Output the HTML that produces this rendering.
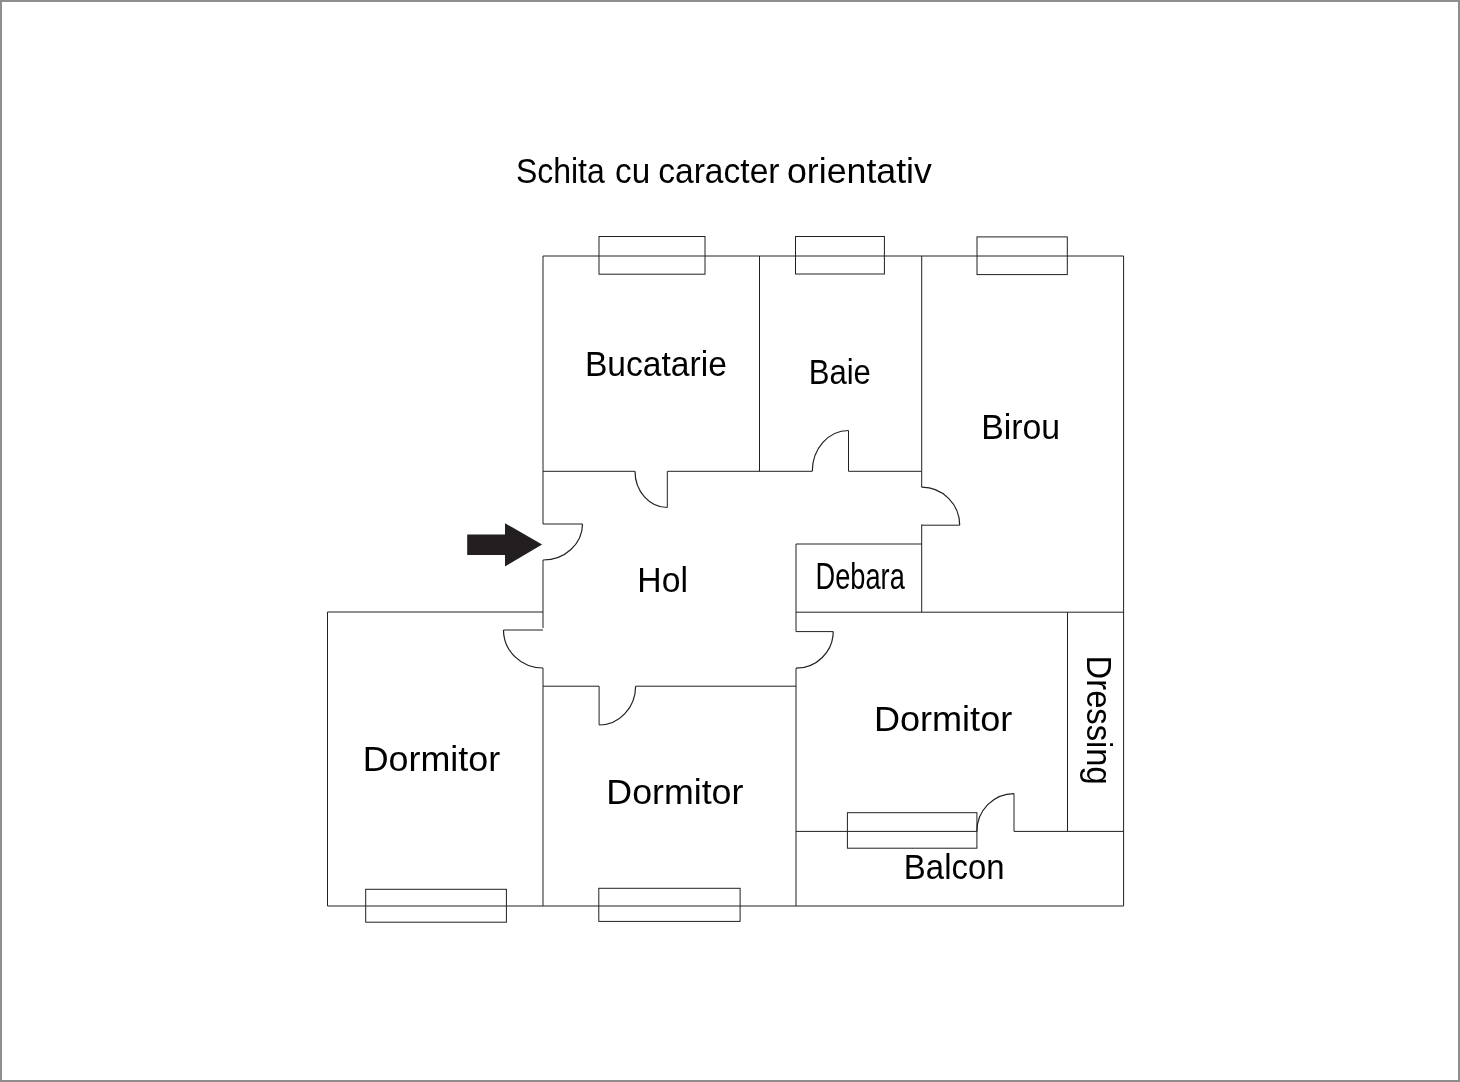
<!DOCTYPE html>
<html><head><meta charset="utf-8">
<style>
html,body{margin:0;padding:0;background:#fff;}
body{width:1460px;height:1082px;overflow:hidden;position:relative;}
.frame{position:absolute;left:0;top:0;width:1456px;height:1078px;border:2px solid #8e8e8e;}
svg{position:absolute;left:0;top:0;will-change:transform;}
text{font-family:"Liberation Sans",sans-serif;fill:#000;}
</style></head>
<body>
<div class="frame"></div>
<svg width="1460" height="1082" viewBox="0 0 1460 1082">
<g fill="none" stroke="#231f20" stroke-width="1">
<!-- outer walls -->
<path d="M543,256 H1123.6 V906 H327.5 V612 H543"/>
<!-- main left wall x=543 -->
<path d="M543,256 V524 M543,560 V628 M543,668 V906"/>
<!-- door leaves -->
<path d="M543,524 H582.5"/>
<path d="M543,630 H503.5"/>
<path d="M667.3,471.3 V507.5"/>
<path d="M848.5,430.5 V471.3"/>
<path d="M959.7,525.2 H921.7"/>
<path d="M796,631.6 H833.2"/>
<path d="M599.1,686.2 V725"/>
<path d="M1014,793.6 V831.4"/>
<!-- bucatarie bottom wall y=471.3 -->
<path d="M543,471.3 H635 M667.3,471.3 H812.3 M848.5,471.3 H921.7"/>
<!-- bucatarie/baie divider -->
<path d="M759.5,256 V471.3"/>
<!-- baie/birou x=921.7 -->
<path d="M921.7,256 V487.2 M921.7,524.5 V612.2"/>
<!-- debara -->
<path d="M796,544 H921.7 M796,544 V631.6 M796,668.2 V906"/>
<!-- birou bottom -->
<path d="M796,612.2 H1123.6"/>
<!-- dressing -->
<path d="M1067.5,612.2 V831.4"/>
<!-- hol bottom -->
<path d="M543,686.2 H599.1 M635.6,686.2 H796"/>
<!-- balcon -->
<path d="M796,831.4 H976.9 M1014,831.4 H1123.6"/>
<!-- windows -->
<rect x="599" y="236.5" width="106" height="37.7"/>
<rect x="795.5" y="236.5" width="88.9" height="37.5"/>
<rect x="977" y="236.9" width="90.3" height="37.7"/>
<rect x="847.4" y="812.7" width="129.5" height="35.5"/>
<rect x="365.7" y="889.3" width="140.7" height="32.9"/>
<rect x="598.8" y="888.3" width="141.3" height="33.1"/>
</g>
<g fill="none" stroke="#231f20" stroke-width="1.2">
<path d="M582.5,524 A39.5,36 0 0 1 543,560"/>
<path d="M503.5,630 A39.5,38 0 0 0 543,668"/>
<path d="M635,471.3 A32.3,36.2 0 0 0 667.3,507.5"/>
<path d="M812.3,471.3 A36.2,40.8 0 0 1 848.5,430.5"/>
<path d="M921.7,487.2 A38,38 0 0 1 959.7,525.2"/>
<path d="M833.2,631.6 A37.2,36.6 0 0 1 796,668.2"/>
<path d="M599.1,725 A36.5,38.8 0 0 0 635.6,686.2"/>
<path d="M976.9,831.4 A37.1,37.8 0 0 1 1014,793.6"/>
</g>
<polygon points="467.2,534.4 505,534.4 505,523.2 542.1,544.5 505,566.4 505,554.9 467.2,554.9" fill="#231f20"/>
<g font-size="35">
<text id="t1" x="515.88" y="182.7" textLength="88.91" lengthAdjust="spacingAndGlyphs">Schita</text>
<text id="t2" x="615.01" y="182.7" textLength="35.14" lengthAdjust="spacingAndGlyphs">cu</text>
<text id="t3" x="658.18" y="182.7" textLength="121.34" lengthAdjust="spacingAndGlyphs">caracter</text>
<text id="t4" x="786.99" y="182.7" textLength="144.92" lengthAdjust="spacingAndGlyphs">orientativ</text>
<text id="t5" x="584.91" y="375.8" textLength="141.94" lengthAdjust="spacingAndGlyphs">Bucatarie</text>
<text id="t6" x="808.69" y="383.7" textLength="62.20" lengthAdjust="spacingAndGlyphs">Baie</text>
<text id="t7" x="981.23" y="438.9" textLength="78.92" lengthAdjust="spacingAndGlyphs">Birou</text>
<text id="t8" x="637.35" y="591.8" textLength="50.60" lengthAdjust="spacingAndGlyphs">Hol</text>
<text id="t9" x="815.57" y="588.6" textLength="89.23" lengthAdjust="spacingAndGlyphs" font-size="37.5">Debara</text>
<text id="t10" x="362.73" y="770.9" textLength="137.48" lengthAdjust="spacingAndGlyphs">Dormitor</text>
<text id="t11" x="606.33" y="803.9" textLength="137.09" lengthAdjust="spacingAndGlyphs">Dormitor</text>
<text id="t12" x="873.95" y="730.9" textLength="138.29" lengthAdjust="spacingAndGlyphs">Dormitor</text>
<text id="t13" x="903.86" y="878.6" textLength="100.69" lengthAdjust="spacingAndGlyphs">Balcon</text>
<text id="t14" transform="translate(1086.6,655.6) rotate(90)" x="0" y="0" textLength="129.2" lengthAdjust="spacingAndGlyphs">Dressing</text>
</g>
</svg>
</body></html>
